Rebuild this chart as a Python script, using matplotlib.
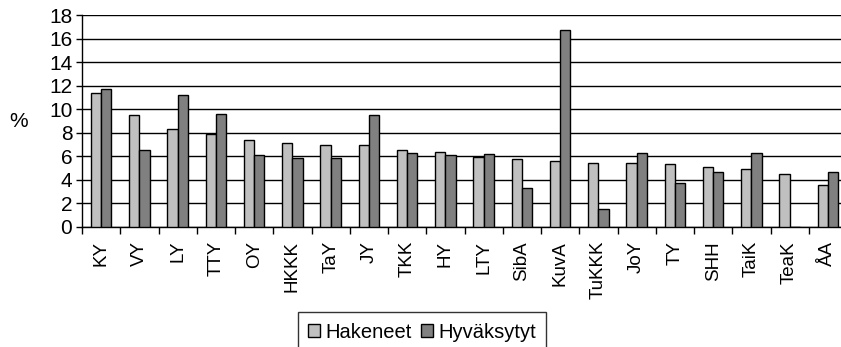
import numpy as np
from matplotlib import pyplot as plt

plt.rcParams['font.family'] = ['Liberation Sans', 'DejaVu Sans']

schools = ['KY', 'VY', 'LY', 'TTY', 'OY', 'HKKK', 'TaY', 'JY', 'TKK', 'HY', 'LTY',
           'SibA', 'KuvA', 'TuKKK', 'JoY', 'TY', 'SHH', 'TaiK', 'TeaK', 'ÅA']
hakeneet = [11.4, 9.5, 8.3, 7.9, 7.4, 7.1, 7.0, 7.0, 6.5, 6.4, 5.95,
            5.8, 5.6, 5.45, 5.45, 5.35, 5.1, 4.9, 4.5, 3.55]
hyvaksytyt = [11.7, 6.5, 11.2, 9.6, 6.1, 5.85, 5.85, 9.5, 6.3, 6.1, 6.2,
              3.3, 16.7, 1.5, 6.3, 3.7, 4.65, 6.3, 0, 4.65]

fig = plt.figure(figsize=(8.41, 3.47), dpi=100)
ax = fig.add_axes([82 / 841, 120 / 347, 765 / 841, 212 / 347])

x = np.arange(len(schools))
w = 0.27
ax.bar(x - w / 2, hakeneet, w, color='#C0C0C0', edgecolor='black', linewidth=1,
       label='Hakeneet', zorder=3)
ax.bar(x + w / 2, hyvaksytyt, w, color='#808080', edgecolor='black', linewidth=1,
       label='Hyväksytyt', zorder=3)

ax.set_xlim(-0.5, len(schools) - 0.5)
ax.set_ylim(0, 18)
ax.set_yticks(range(0, 19, 2))
ax.yaxis.grid(True, color='black', linewidth=1)
ax.set_axisbelow(True)

ax.set_xticks(x)
ax.set_xticklabels(schools, rotation=90, fontsize=13.5)
ax.set_xticks(np.arange(-0.5, len(schools), 1), minor=True)
ax.tick_params(axis='x', which='major', length=0, pad=10)
ax.tick_params(axis='x', which='minor', length=5, width=1, direction='out')
ax.tick_params(axis='y', labelsize=15, length=4, width=1, direction='out', pad=3)

for s in ['top', 'right']:
    ax.spines[s].set_visible(False)
ax.spines['left'].set_linewidth(1)
ax.spines['bottom'].set_linewidth(1)

ax.set_ylabel('%', rotation=0, fontsize=15, labelpad=22, va='center')

fig.legend(loc='center', bbox_to_anchor=(422 / 841, 1 - 332 / 347), ncol=2,
           fontsize=14.5, frameon=True, fancybox=False, edgecolor='black',
           handlelength=0.6, handleheight=0.6, handletextpad=0.25,
           columnspacing=0.5, borderpad=0.5)

fig.savefig('out.png', dpi=100)
